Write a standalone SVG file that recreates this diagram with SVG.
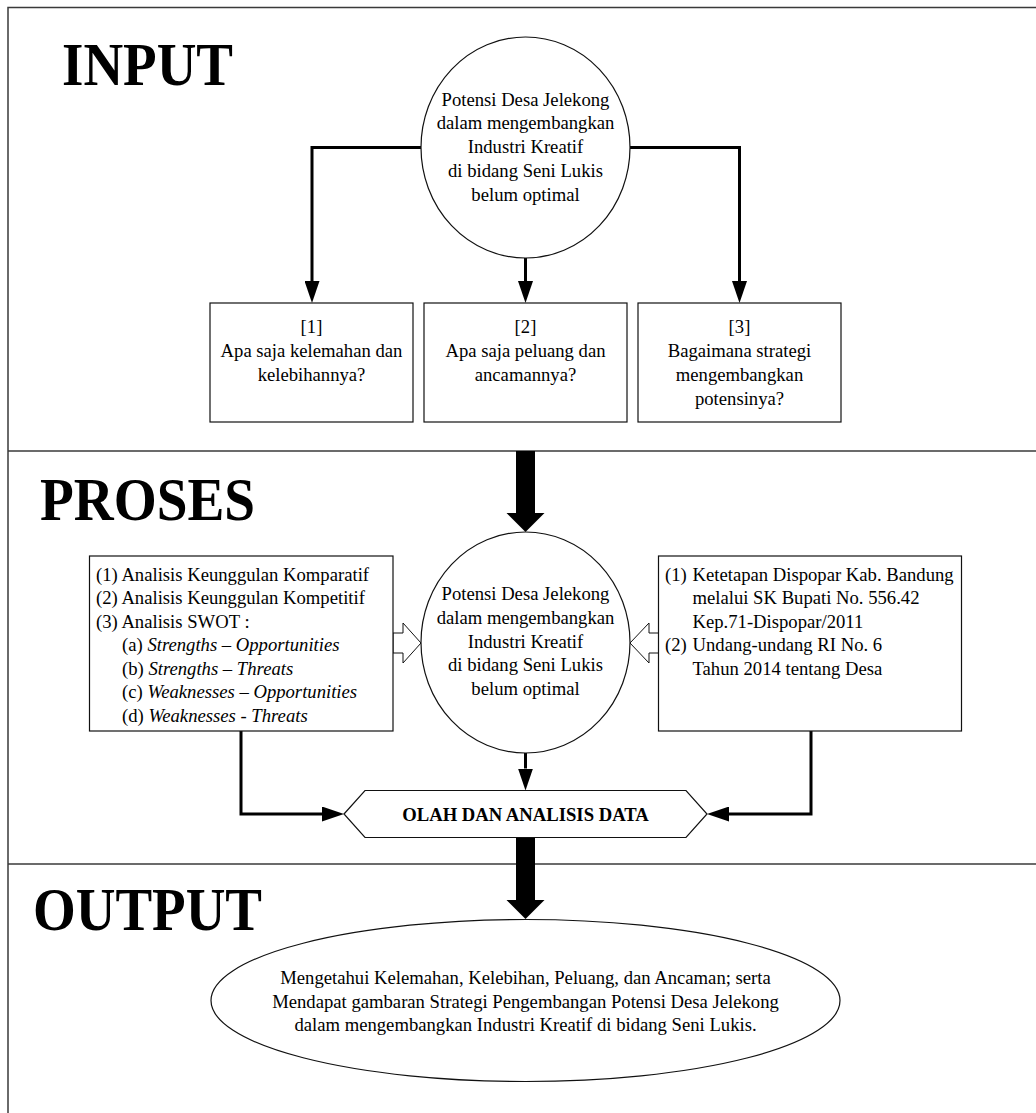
<svg xmlns="http://www.w3.org/2000/svg" width="1036" height="1113" viewBox="0 0 1036 1113">
<style>
.frame{stroke:#3a3a3a;stroke-width:1.5;fill:none}
.shape{fill:#fff;stroke:#111;stroke-width:1.2}
.conn{fill:none;stroke:#000;stroke-width:3}
.thick{fill:#000;stroke:none}
.hollow{fill:#fff;stroke:#111;stroke-width:1}
text{font-family:"Liberation Serif","Times New Roman",serif;font-size:18.67px;fill:#000}
.c{text-anchor:middle}
.h{font-size:62px;font-weight:bold}
.b{font-weight:bold}
.i{font-style:italic}
</style>
<defs>
<marker id="ah" viewBox="0 0 22 15" refX="0" refY="7.5" markerWidth="22" markerHeight="15" markerUnits="userSpaceOnUse" orient="auto">
<path d="M0,0 L22,7.5 L0,15 z" fill="#000"/>
</marker>
</defs>
<rect width="1036" height="1113" fill="#fff"/>
<g id="frame">
<path class="frame" d="M8,1113 V7.5 H1036"/>
<path class="frame" d="M8,451 H1036"/>
<path class="frame" d="M8,864 H1036"/>
</g>
<g id="headings">
<text class="h" x="62" y="85" textLength="171" lengthAdjust="spacingAndGlyphs">INPUT</text>
<text class="h" x="40" y="520" textLength="215" lengthAdjust="spacingAndGlyphs">PROSES</text>
<text class="h" x="33" y="930" textLength="229" lengthAdjust="spacingAndGlyphs">OUTPUT</text>
</g>
<g id="connectors">
<path class="conn" d="M421,147.5 H312 V281" marker-end="url(#ah)"/>
<path class="conn" d="M525.5,258 V281" marker-end="url(#ah)"/>
<path class="conn" d="M630,147.5 H739.5 V281" marker-end="url(#ah)"/>
<polygon class="thick" points="516,451 535,451 535,513 544.5,513 525.5,532 506.5,513 516,513"/>
<polygon class="hollow" points="393,633 403,633 403,623 421,643 403,663 403,653 393,653"/>
<polygon class="hollow" points="659,633 649,633 649,623 630,643 649,663 649,653 659,653"/>
<path class="conn" d="M241,731 V814 H322" marker-end="url(#ah)"/>
<path class="conn" d="M811,731 V814 H729" marker-end="url(#ah)"/>
<path class="conn" d="M525.5,753 V768.5" marker-end="url(#ah)"/>
<polygon class="thick" points="516,837 535,837 535,900 544.5,900 525.5,919 506.5,900 516,900"/>
</g>
<g id="input-circle">
<ellipse class="shape" cx="525.5" cy="147.5" rx="104.5" ry="110.5"/>
<text class="c" x="525.5" y="105.5">Potensi Desa Jelekong</text>
<text class="c" x="525.5" y="129.25">dalam mengembangkan</text>
<text class="c" x="525.5" y="153">Industri Kreatif</text>
<text class="c" x="525.5" y="176.75">di bidang Seni Lukis</text>
<text class="c" x="525.5" y="200.5">belum optimal</text>
</g>
<g id="box1">
<rect class="shape" x="210" y="303" width="203" height="119"/>
<text class="c" x="311.5" y="332.5">[1]</text>
<text class="c" x="311.5" y="356.5">Apa saja kelemahan dan</text>
<text class="c" x="311.5" y="380.5">kelebihannya?</text>
</g>
<g id="box2">
<rect class="shape" x="424" y="303" width="203" height="119"/>
<text class="c" x="525.5" y="332.5">[2]</text>
<text class="c" x="525.5" y="356.5">Apa saja peluang dan</text>
<text class="c" x="525.5" y="380.5">ancamannya?</text>
</g>
<g id="box3">
<rect class="shape" x="638" y="303" width="203" height="119"/>
<text class="c" x="739.5" y="332.5">[3]</text>
<text class="c" x="739.5" y="356.5">Bagaimana strategi</text>
<text class="c" x="739.5" y="380.5">mengembangkan</text>
<text class="c" x="739.5" y="404.5">potensinya?</text>
</g>
<g id="proses-circle">
<ellipse class="shape" cx="525.5" cy="642.5" rx="104.5" ry="110.5"/>
<text class="c" x="525.5" y="600">Potensi Desa Jelekong</text>
<text class="c" x="525.5" y="623.75">dalam mengembangkan</text>
<text class="c" x="525.5" y="647.5">Industri Kreatif</text>
<text class="c" x="525.5" y="671.25">di bidang Seni Lukis</text>
<text class="c" x="525.5" y="695">belum optimal</text>
</g>
<g id="analysis-box">
<rect class="shape" x="89.5" y="556" width="303.5" height="175"/>
<text x="96" y="580.5">(1) Analisis Keunggulan Komparatif</text>
<text x="96" y="604">(2) Analisis Keunggulan Kompetitif</text>
<text x="96" y="627.5">(3) Analisis SWOT :</text>
<text x="122" y="651">(a) <tspan class="i">Strengths – Opportunities</tspan></text>
<text x="122" y="674.5">(b) <tspan class="i">Strengths – Threats</tspan></text>
<text x="122" y="698">(c) <tspan class="i">Weaknesses – Opportunities</tspan></text>
<text x="122" y="721.5">(d) <tspan class="i">Weaknesses - Threats</tspan></text>
</g>
<g id="regulation-box">
<rect class="shape" x="658.5" y="556" width="303" height="175"/>
<text x="665" y="580.5">(1)</text>
<text x="692.5" y="580.5">Ketetapan Dispopar Kab. Bandung</text>
<text x="692.5" y="604">melalui SK Bupati No. 556.42</text>
<text x="692.5" y="627.5">Kep.71-Dispopar/2011</text>
<text x="665" y="651">(2)</text>
<text x="692.5" y="651">Undang-undang RI No. 6</text>
<text x="692.5" y="674.5">Tahun 2014 tentang Desa</text>
</g>
<g id="olah-data">
<polygon class="shape" points="344,814 365,790.5 686,790.5 707,814 686,837.5 365,837.5"/>
<text class="c b" x="525.5" y="820.5">OLAH DAN ANALISIS DATA</text>
</g>
<g id="output-ellipse">
<ellipse class="shape" cx="525.5" cy="1000.5" rx="314.5" ry="81"/>
<text class="c" x="525.5" y="984">Mengetahui Kelemahan, Kelebihan, Peluang, dan Ancaman; serta</text>
<text class="c" x="525.5" y="1007.5">Mendapat gambaran Strategi Pengembangan Potensi Desa Jelekong</text>
<text class="c" x="525.5" y="1031">dalam mengembangkan Industri Kreatif di bidang Seni Lukis.</text>
</g>
</svg>
